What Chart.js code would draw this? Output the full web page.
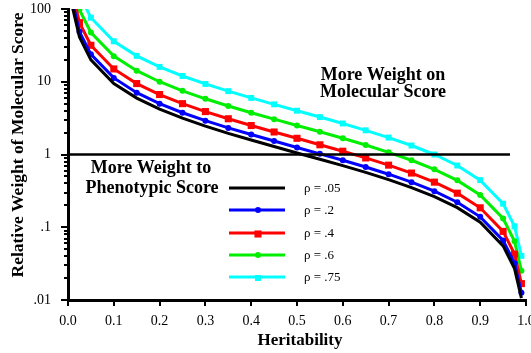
<!DOCTYPE html>
<html>
<head>
<meta charset="utf-8">
<script src="https://cdn.jsdelivr.net/npm/chart.js@4.4.0/dist/chart.umd.min.js"></script>
<style>
  html, body { margin: 0; padding: 0; background: #fff; overflow: hidden; }
</style>
</head>
<body>
<canvas id="weightChart" width="531" height="353"></canvas>
<script>
// heritability values where each curve was sampled
const heritability = [0.01, 0.025, 0.05, 0.1, 0.15, 0.2, 0.25, 0.3, 0.35, 0.4, 0.45, 0.5,
    0.55, 0.6, 0.65, 0.7, 0.75, 0.8, 0.85, 0.9, 0.95, 0.975, 0.99];

// relative weight, one list per rho
const rho05 = [104, 41.1, 20.0, 9.47, 5.96, 4.21, 3.16, 2.46, 1.95, 1.58, 1.29, 1.05,
    0.861, 0.702, 0.567, 0.451, 0.351, 0.263, 0.186, 0.117, 0.0554, 0.027, 0.0106];
const rho2 = [124, 48.8, 23.8, 11.3, 7.08, 5.0, 3.75, 2.92, 2.32, 1.88, 1.53, 1.25,
    1.02, 0.833, 0.673, 0.536, 0.417, 0.313, 0.221, 0.139, 0.0658, 0.032, 0.0126];
const rho4 = [165, 65, 31.7, 15, 9.44, 6.67, 5.0, 3.89, 3.1, 2.5, 2.04, 1.67,
    1.36, 1.11, 0.897, 0.714, 0.556, 0.417, 0.294, 0.185, 0.0877, 0.0427, 0.0168];
const rho6 = [248, 97.5, 47.5, 22.5, 14.2, 10, 7.5, 5.83, 4.64, 3.75, 3.06, 2.5,
    2.05, 1.67, 1.35, 1.07, 0.833, 0.625, 0.441, 0.278, 0.132, 0.0641, 0.0253];
const rho75 = [396, 156, 76, 36, 22.7, 16, 12, 9.33, 7.43, 6.0, 4.89, 4.0,
    3.27, 2.67, 2.15, 1.71, 1.33, 1.0, 0.706, 0.444, 0.211, 0.103, 0.0404];

const seriesLabels = ['ρ = .05', 'ρ = .2', 'ρ = .4', 'ρ = .6', 'ρ = .75'];

// the "equal weight" line at 1
const cutoffX = [0, 0.965];
const cutoffY = [1, 1];

const xTicks = [0, 0.1, 0.2, 0.3, 0.4, 0.5, 0.6, 0.7, 0.8, 0.9, 1.0];
const yDecades = [0.01, 0.1, 1, 10, 100];
const yDecadeLabels = ['.01', '.1', '1', '10', '100'];

const toPoints = (xs, ys) => xs.map((x, i) => ({ x: x, y: ys[i] }));

const serif = '"Liberation Serif", "Times New Roman", serif';

const makeSeries = (label, values, color, style, radius) => ({
    label: label,
    data: toPoints(heritability, values),
    borderColor: color,
    backgroundColor: color,
    borderWidth: 3,
    pointStyle: style,
    pointRadius: radius,
    pointBorderWidth: 0,
    tension: 0
});

const datasets = [
    {
        label: 'cutoff',
        data: toPoints(cutoffX, cutoffY),
        borderColor: '#000',
        borderWidth: 2.5,
        pointRadius: 0
    },
    makeSeries(seriesLabels[0], rho05, '#000000', false, 0),
    makeSeries(seriesLabels[1], rho2, '#0000ff', 'circle', 3),
    makeSeries(seriesLabels[2], rho4, '#ff0000', 'rect', 5),
    makeSeries(seriesLabels[3], rho6, '#00ee00', 'circle', 3),
    makeSeries(seriesLabels[4], rho75, '#00ffff', 'rect', 4.2)
];

const isDecade = (v) => {
    const l = Math.log10(v);
    return Math.abs(l - Math.round(l)) < 1e-6;
};

// tick marks, axis titles, legend and the two notes
const extras = {
    id: 'extras',
    afterDraw(chart) {
        const { ctx, chartArea: a, scales: { x, y } } = chart;
        ctx.save();
        ctx.strokeStyle = '#000';
        ctx.lineWidth = 2;
        x.ticks.forEach(t => {
            const px = Math.round(x.getPixelForValue(t.value));
            ctx.beginPath();
            ctx.moveTo(px, a.bottom);
            ctx.lineTo(px, a.bottom + 6);
            ctx.stroke();
        });
        y.ticks.forEach(t => {
            const py = Math.round(y.getPixelForValue(t.value));
            const len = isDecade(t.value) ? 7 : 4;
            ctx.beginPath();
            ctx.moveTo(a.left, py);
            ctx.lineTo(a.left - len, py);
            ctx.stroke();
        });

        ctx.fillStyle = '#000';
        ctx.textAlign = 'center';
        ctx.textBaseline = 'middle';
        ctx.font = 'bold 17px ' + serif;
        ctx.fillText('Heritability', 300, 341);
        ctx.font = 'bold 18px ' + serif;
        ctx.fillText('More Weight on', 383, 75);
        ctx.fillText('Molecular Score', 383, 92);
        ctx.fillText('More Weight to', 151, 168);
        ctx.fillText('Phenotypic Score', 152, 188);

        ctx.save();
        ctx.font = 'bold 17.5px ' + serif;
        ctx.translate(18, 145);
        ctx.rotate(-Math.PI / 2);
        ctx.fillText('Relative Weight of Molecular Score', 0, 0);
        ctx.restore();

        // legend
        const rows = [188, 210, 233, 255, 277];
        ctx.font = '13px ' + serif;
        ctx.textAlign = 'left';
        chart.data.datasets.slice(1).forEach((ds, i) => {
            const ly = rows[i];
            ctx.strokeStyle = ds.borderColor;
            ctx.lineWidth = 3;
            ctx.beginPath();
            ctx.moveTo(229, ly);
            ctx.lineTo(285, ly);
            ctx.stroke();
            ctx.fillStyle = ds.borderColor;
            if (ds.pointStyle === 'circle') {
                ctx.beginPath();
                ctx.arc(258, ly, ds.pointRadius, 0, Math.PI * 2);
                ctx.fill();
            } else if (ds.pointStyle === 'rect') {
                const s = ds.pointRadius * Math.SQRT1_2;
                ctx.fillRect(258 - s, ly - s + 1, 2 * s, 2 * s);
            }
            ctx.fillStyle = '#000';
            ctx.fillText(ds.label, 304, ly + 1);
        });
        ctx.restore();
    }
};

new Chart(document.getElementById('weightChart'), {
    type: 'line',
    data: { datasets: datasets },
    options: {
        responsive: false,
        animation: false,
        layout: { padding: { top: 9, right: 4, left: 0, bottom: 0 } },
        plugins: { legend: { display: false }, tooltip: { enabled: false } },
        scales: {
            x: {
                type: 'linear',
                min: 0,
                max: 1,
                grid: { display: false },
                border: { display: true, width: 3, color: '#000' },
                afterBuildTicks: (s) => { s.ticks = xTicks.map(v => ({ value: v })); },
                afterFit: (s) => { s.height = 53; s.paddingLeft = 0; s.paddingRight = 0; },
                ticks: {
                    autoSkip: false,
                    maxRotation: 0,
                    padding: 5,
                    color: '#000',
                    font: { family: serif, size: 14 },
                    callback: (v) => Number(v).toFixed(1)
                }
            },
            y: {
                type: 'logarithmic',
                min: 0.01,
                max: 100,
                grid: { display: false },
                border: { display: true, width: 3, color: '#000' },
                afterBuildTicks: (s) => {
                    const t = [];
                    yDecades.forEach((d, i) => {
                        t.push({ value: d });
                        if (i < yDecades.length - 1) {
                            for (let k = 2; k <= 9; k++) t.push({ value: d * k });
                        }
                    });
                    s.ticks = t;
                },
                afterFit: (s) => { s.width = 68; s.paddingTop = 0; s.paddingBottom = 0; },
                ticks: {
                    autoSkip: false,
                    padding: 9,
                    color: '#000',
                    font: { family: serif, size: 14 },
                    callback: (v) => {
                        const i = yDecades.findIndex(d => Math.abs(Math.log10(d) - Math.log10(v)) < 1e-6);
                        return i >= 0 ? yDecadeLabels[i] : '';
                    }
                }
            }
        }
    },
    plugins: [extras]
});
</script>
</body>
</html>
